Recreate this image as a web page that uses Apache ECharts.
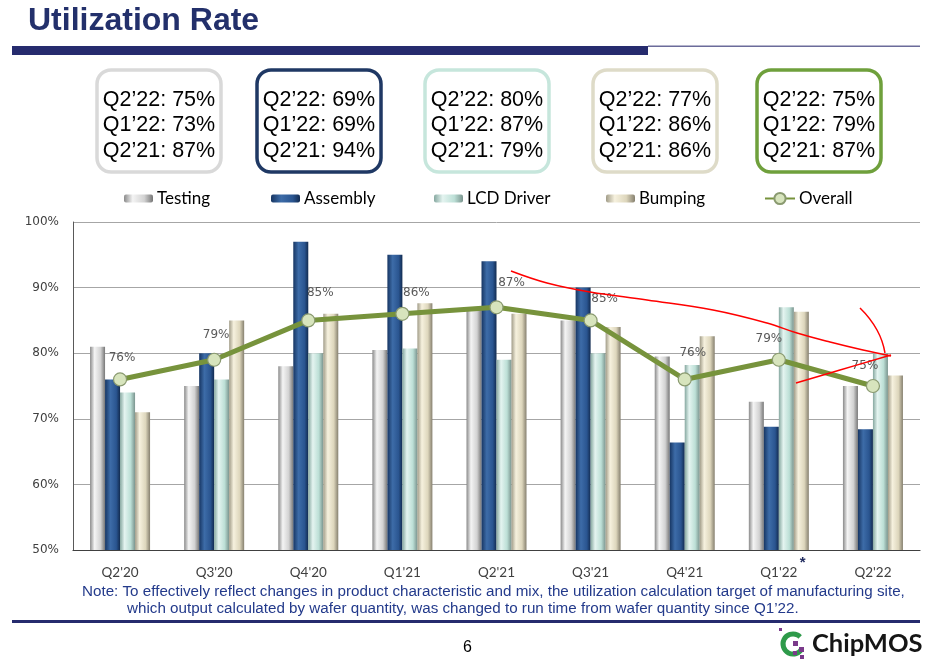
<!DOCTYPE html>
<html><head><meta charset="utf-8">
<script src="https://cdn.jsdelivr.net/npm/echarts@6/dist/echarts.min.js"></script>
<style>html,body{margin:0;padding:0;background:#fff}#c{width:939px;height:661px}</style>
</head><body><div id="c"></div>
<script>
const categories = ["Q2'20","Q3'20","Q4'20","Q1'21","Q2'21","Q3'21","Q4'21","Q1'22","Q2'22"];
const testing   = [81, 75, 78, 80.5, 87, 85, 79.5, 72.6, 75];
const assembly  = [76, 80, 97, 95, 94, 90, 66.4, 68.8, 68.4];
const lcdDriver = [74, 76, 80, 80.7, 79, 80, 78.2, 87, 80];
const bumping   = [71, 85, 86, 87.6, 86, 84, 82.6, 86.3, 76.6];
const overall   = [76, 79, 85, 86, 87, 85, 76, 79, 75];
const yTicks = [50, 60, 70, 80, 90, 100];
const boxTesting  = ["Q2’22: 75%", "Q1’22: 73%", "Q2’21: 87%"];
const boxAssembly = ["Q2’22: 69%", "Q1’22: 69%", "Q2’21: 94%"];
const boxLcd      = ["Q2’22: 80%", "Q1’22: 87%", "Q2’21: 79%"];
const boxBumping  = ["Q2’22: 77%", "Q1’22: 86%", "Q2’21: 86%"];
const boxOverall  = ["Q2’22: 75%", "Q1’22: 79%", "Q2’21: 87%"];
// label placement tweaks (layout only)
const labelShift = [[2,-2],[2,-6],[12,-8],[14,-2],[15,-5],[14,-2],[8,-7],[-10,-2],[-8,-1]];

const chart = echarts.init(document.getElementById('c'), null, {renderer:'canvas'});
const lf = 'Lato, "Open Sans", sans-serif';
function grad(stops){return {type:'linear',x:0,y:0,x2:1,y2:0,colorStops:stops.map(c=>({offset:c[0],color:c[1]}))};}
const gTesting = grad([[0,'#8a8a8a'],[0.3,'#f4f4f4'],[0.7,'#d2d2d2'],[1,'#777']]);
const gAssembly = grad([[0,'#173663'],[0.35,'#3d6ca8'],[0.75,'#2a5590'],[1,'#122b50']]);
const gLcd = grad([[0,'#86a8a0'],[0.3,'#e4f4f0'],[0.7,'#bcdfd6'],[1,'#7a948e']]);
const gBump = grad([[0,'#a19c88'],[0.3,'#f6f1de'],[0.7,'#ddd6bc'],[1,'#86806f']]);

function box(x, color, lines){
  return {type:'group', children:[
    {type:'rect', shape:{x:x, y:70, width:124, height:102, r:14}, style:{fill:'#fff', stroke:color, lineWidth:3.5}},
    ...lines.map((t,i)=>({type:'text', x:x+62, y:100+i*25.5, style:{text:t, fill:'#000', font:'21.5px "Liberation Sans", Arial, sans-serif', textAlign:'center', textVerticalAlign:'middle'}}))
  ]};
}
function barSeries(name, data, color){
  return {name, type:'bar', data, barWidth:15, barGap:'0%', barCategoryGap:'36%', itemStyle:{color}};
}
function leg(name, left, icon){
  return {data:[name], left, top:185, itemWidth: icon==='line'?30:29, itemHeight: icon==='line'?14:8, itemGap:2,
    textStyle:{fontFamily:lf, fontSize:17, color:'#000', padding:[0,0,0,-1]}, selectedMode:false};
}

chart.setOption({
  animation:false,
  grid:{left:73, right:19, top:222, bottom:111},
  legend:[leg('Testing',119),leg('Assembly',266),leg('LCD Driver',429),leg('Bumping',601),leg('Overall',759,'line')],
  xAxis:{type:'category', data:categories,
    axisLine:{lineStyle:{color:'#404040', width:1.2}}, axisTick:{show:false},
    axisLabel:{fontFamily:lf, fontSize:13.5, color:'#404040', margin:16}},
  yAxis:{type:'value', min:yTicks[0], max:yTicks[yTicks.length-1], interval:10,
    axisLine:{show:true, lineStyle:{color:'#595959'}}, axisTick:{show:false},
    splitLine:{lineStyle:{color:'#a6a6a6', width:1}},
    axisLabel:{formatter:'{value}%', fontFamily:'"DejaVu Sans", sans-serif', fontSize:12, color:'#404040', margin:14}},
  series:[
    barSeries('Testing', testing, gTesting),
    barSeries('Assembly', assembly, gAssembly),
    barSeries('LCD Driver', lcdDriver, gLcd),
    barSeries('Bumping', bumping, gBump),
    {name:'Overall', type:'line', symbol:'circle', symbolSize:13,
      data: overall.map((v,i)=>({value:v, label:{offset:labelShift[i]}})),
      lineStyle:{color:'#77933c', width:5}, itemStyle:{color:'#d7e4bd', borderColor:'#8a9a70', borderWidth:1.2},
      label:{show:true, position:'top', distance:6, formatter:'{c}%', fontFamily:'"DejaVu Sans", sans-serif', fontSize:12, color:'#595959'}, z:5}
  ],
  graphic:[
    {type:'text', left:28, top:5, style:{text:'Utilization Rate', fill:'#23306b', font:'bold 32px "Liberation Sans", Arial, sans-serif'}},
    {type:'rect', shape:{x:12, y:46, width:636, height:9}, style:{fill:'#262b6e'}},
    {type:'rect', shape:{x:648, y:45.5, width:272, height:1.6}, style:{fill:'#6b6b9a'}},
    box(97,'#d9d9d9',boxTesting), box(257,'#1f3864',boxAssembly), box(425,'#c6e6dc',boxLcd), box(593,'#dedbc8',boxBumping), box(757,'#6fa03c',boxOverall),
    {type:'polyline', shape:{smooth:0.4, points:[[511,271],[547,283],[590,292],[647,300],[713,310],[767,323],[797,333],[830,342],[863,350],[891,356]]}, style:{stroke:'#ff0000', lineWidth:1.5, fill:null}, z:20},
    {type:'polyline', shape:{smooth:0.4, points:[[796,383],[840,370],[891,355]]}, style:{stroke:'#ff0000', lineWidth:1.5, fill:null}, z:20},
    {type:'polyline', shape:{smooth:0.5, points:[[860,308],[877,330],[885,353]]}, style:{stroke:'#ff0000', lineWidth:1.5, fill:null}, z:20},
    {type:'text', left:82, top:584, style:{text:'Note: To effectively reflect changes in product characteristic and mix, the utilization calculation target of manufacturing site,', fill:'#233a8b', font:'15.2px "Liberation Sans Narrow", "Arial Narrow", "Liberation Sans", sans-serif'}},
    {type:'text', left:127, top:601, style:{text:'which output calculated by wafer quantity, was changed to run time from wafer quantity since Q1’22.', fill:'#233a8b', font:'15.2px "Liberation Sans Narrow", "Arial Narrow", "Liberation Sans", sans-serif'}},
    {type:'rect', shape:{x:12, y:620, width:908, height:3}, style:{fill:'#262b6e'}},
    {type:'text', left:463, top:640, style:{text:'6', fill:'#000', font:'16px "Liberation Sans Narrow", "Liberation Sans", sans-serif'}},
    {type:'text', left:812, top:631, style:{text:'ChipMOS', fill:'#151515', font:'bold 25.5px Lato, "Liberation Sans", sans-serif'}},
    {type:'arc', shape:{cx:793, cy:644, r:10, startAngle:Math.PI*0.15, endAngle:Math.PI*1.75}, style:{stroke:'#2e9a4a', lineWidth:5, fill:null}},
    {type:'rect', shape:{x:793, y:641, width:5, height:5}, style:{fill:'#7a3a8a'}},
    {type:'rect', shape:{x:799, y:647, width:5, height:5}, style:{fill:'#7a3a8a'}},
    {type:'rect', shape:{x:793, y:651, width:4, height:4}, style:{fill:'#7a3a8a'}},
    {type:'rect', shape:{x:800, y:655, width:4, height:4}, style:{fill:'#7a3a8a'}},
    {type:'rect', shape:{x:779, y:628, width:3, height:3}, style:{fill:'#7a3a8a'}}
  ]
});
// superscript asterisk after the Q1'22 axis label
const p = chart.convertToPixel({xAxisIndex:0}, "Q1'22");
chart.setOption({graphic: chart.getOption().graphic[0].elements.concat([
  {type:'text', x:p+21, y:555, style:{text:'*', fill:'#1f2a5e', font:'bold 15px "Liberation Sans", sans-serif'}}
])});
</script></body></html>
